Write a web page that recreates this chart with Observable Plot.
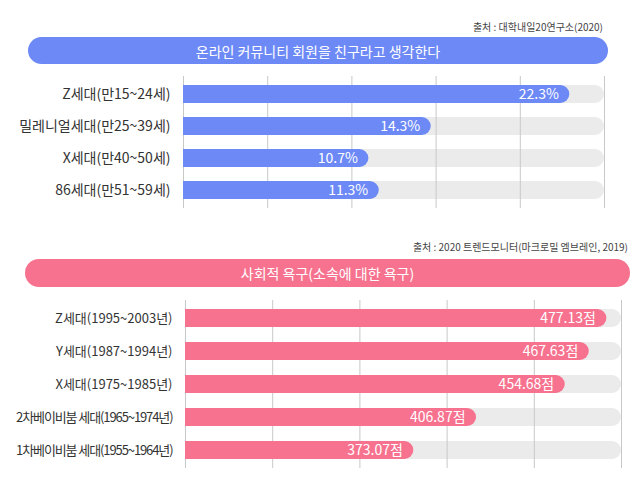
<!DOCTYPE html>
<html><head><meta charset="utf-8">
<script src="https://cdn.jsdelivr.net/npm/d3@7"></script>
<script src="https://cdn.jsdelivr.net/npm/@observablehq/plot@0.6"></script>
<style>
body{margin:0;background:#fff;font-family:"Noto Sans CJK KR",sans-serif;}
#root{position:relative;width:640px;height:500px;overflow:hidden;}
.src{position:absolute;font-size:10px;color:#444;line-height:12px;white-space:nowrap;}
.pill{position:absolute;color:#fff;font-size:14px;display:flex;align-items:center;justify-content:center;white-space:nowrap;}
.chart{position:absolute;left:0;}
</style></head><body><div id="root"></div>
<script>
// ---- data ----
const topTitle = "온라인 커뮤니티 회원을 친구라고 생각한다";
const topSource = "출처 : 대학내일20연구소(2020)";
const topCategories = ["Z세대(만15~24세)", "밀레니얼세대(만25~39세)", "X세대(만40~50세)", "86세대(만51~59세)"];
const topValues = [22.3, 14.3, 10.7, 11.3];
const topUnit = "%";

const bottomTitle = "사회적 욕구(소속에 대한 욕구)";
const bottomSource = "출처 : 2020 트렌드모니터(마크로밀 엠브레인, 2019)";
const bottomCategories = ["Z세대(1995~2003년)", "Y세대(1987~1994년)", "X세대(1975~1985년)", "2차베이비붐 세대(1965~1974년)", "1차베이비붐 세대(1955~1964년)"];
const bottomValues = [477.13, 467.63, 454.68, 406.87, 373.07];
const bottomUnit = "점";

// ---- layout ----
const root = document.getElementById("root");
function addDiv(cls, text, style) {
  const d = document.createElement("div");
  d.className = cls; d.textContent = text;
  Object.assign(d.style, style);
  root.appendChild(d);
  return d;
}

function panel(o) {
  const data = o.categories.map((c, i) => ({cat: c, value: o.values[i], label: o.values[i].toFixed(o.digits) + o.unit}));
  const [lo, hi] = o.domain;
  const grid = d3.range(6).map(i => lo + (hi - lo) * i / 5);
  const r = 9;
  const svg = Plot.plot({
    width: 640, height: o.height,
    marginLeft: o.marginLeft, marginRight: o.marginRight,
    marginTop: o.marginTop, marginBottom: o.marginBottom,
    style: {fontFamily: '"Noto Sans CJK KR", sans-serif', background: "transparent"},
    x: {domain: o.domain, axis: null},
    y: {domain: o.categories, paddingInner: o.paddingInner, paddingOuter: o.paddingOuter, axis: null},
    marks: [
      Plot.barX(data, {y: "cat", x1: () => lo, x2: () => hi, fill: "#ebebeb", rx: r}),
      Plot.barX(data, {y: "cat", x1: () => lo, x2: () => hi, fill: "#ebebeb", insetRight: r}),
      Plot.ruleX(grid, {stroke: "#c8c8c8", strokeWidth: 1}),
      Plot.barX(data, {y: "cat", x1: () => lo, x2: "value", fill: o.color, rx: r}),
      Plot.barX(data, {y: "cat", x1: () => lo, x2: "value", fill: o.color, insetRight: r}),
      Plot.text(data, {y: "cat", x: "value", text: "label", textAnchor: "end", dx: -11, fill: "#fff", fontSize: 14}),
      Plot.text(data, {y: "cat", x: () => lo, text: "cat", textAnchor: "end", dx: -13, fill: "#333", fontSize: o.labelSize})
    ]
  });
  // condense the long category labels so they fit on the left like the reference
  d3.select(svg).selectAll("text").filter(function () { return this.textContent.length > 16; })
    .style("letter-spacing", "-1.1px");
  svg.classList.add("chart");
  svg.style.top = o.top + "px";
  root.appendChild(svg);
}

addDiv("src", topSource, {right: "37px", top: "21px"});
addDiv("pill", topTitle, {left: "28px", top: "37px", width: "580px", height: "27px", borderRadius: "14px", background: "#6c89f6"});
panel({categories: topCategories, values: topValues, unit: topUnit, digits: 1,
  domain: [0, 24.3], color: "#6c89f6", top: 70, height: 150, labelSize: 14,
  marginLeft: 183, marginRight: 36, marginTop: 6, marginBottom: 12,
  paddingInner: 0.44, paddingOuter: 0.2825});

addDiv("src", bottomSource, {right: "12px", top: "241px"});
addDiv("pill", bottomTitle, {left: "25px", top: "259px", width: "605px", height: "28px", borderRadius: "14px", background: "#f6728f"});
panel({categories: bottomCategories, values: bottomValues, unit: bottomUnit, digits: 2,
  domain: [250, 485], color: "#f6728f", top: 290, height: 190, labelSize: 13,
  marginLeft: 185, marginRight: 19, marginTop: 10, marginBottom: 12,
  paddingInner: 0.4545, paddingOuter: 0.2727});
</script></body></html>
